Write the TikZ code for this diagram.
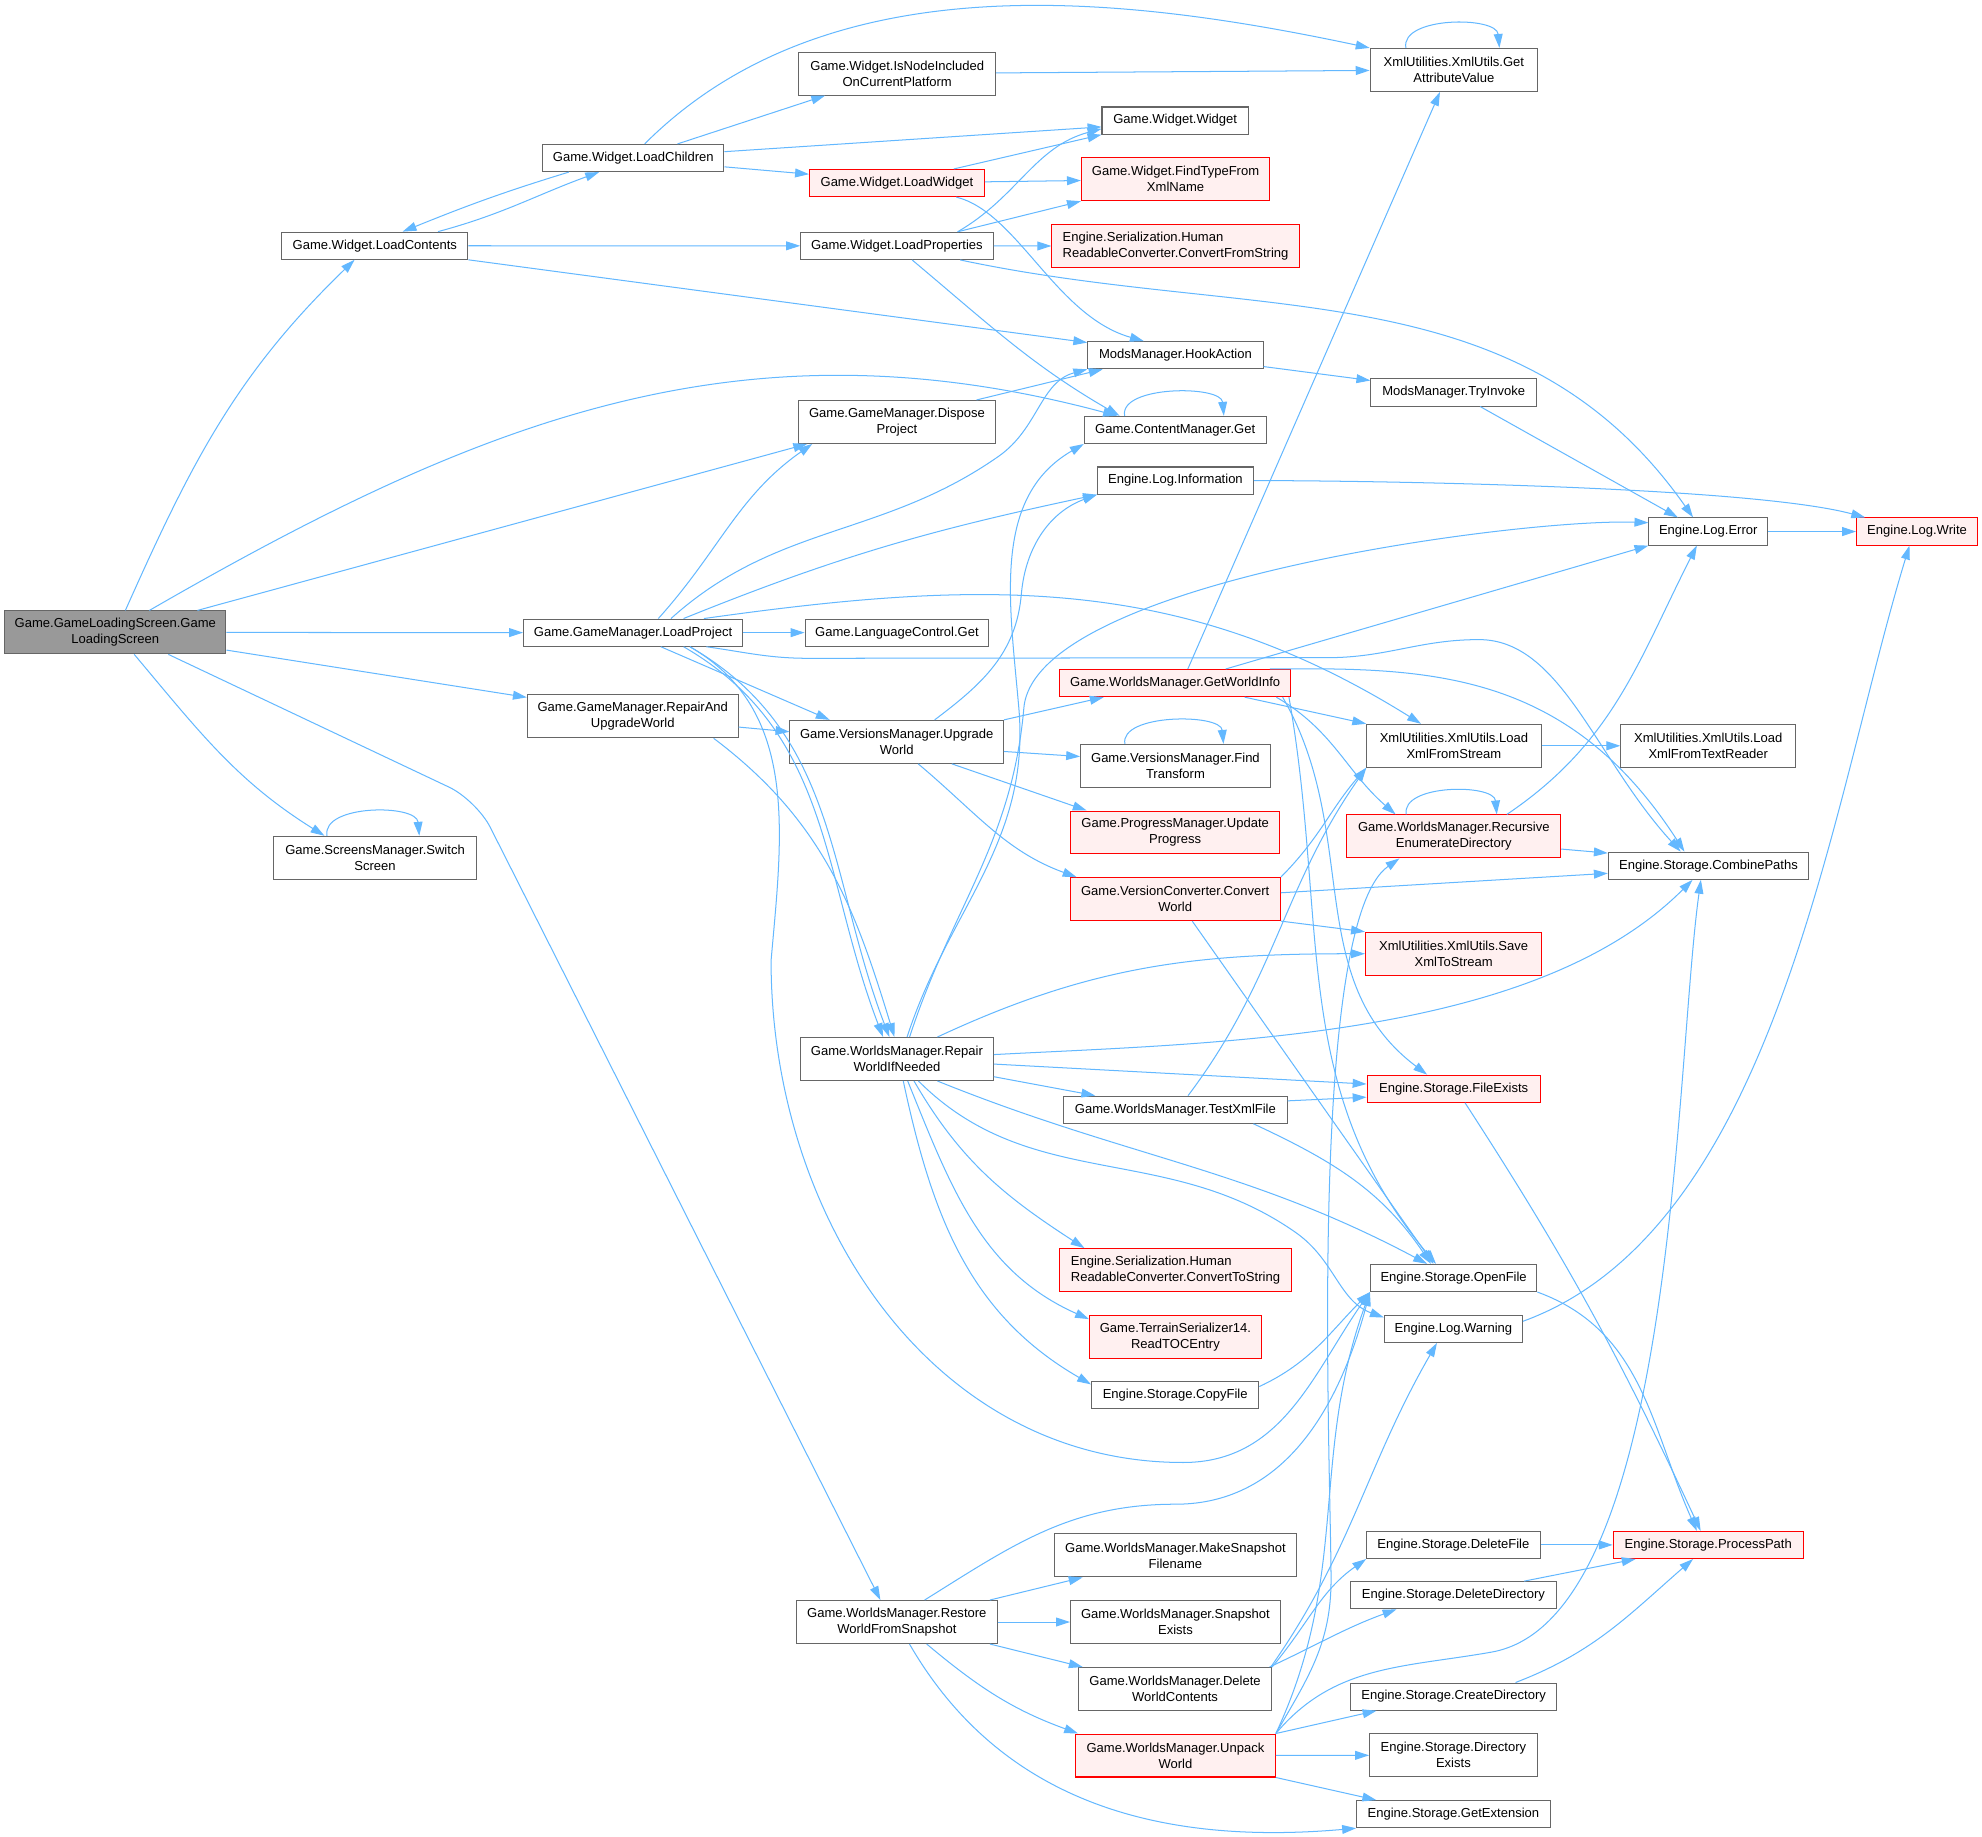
\documentclass[tikz,border=0pt]{standalone}
\usepackage{fontspec}
\setmainfont{Liberation Sans}
\usetikzlibrary{arrows.meta}
\definecolor{edgeblue}{HTML}{63B8FF}
\definecolor{boxgray}{HTML}{666666}
\definecolor{rootgray}{HTML}{999999}
\definecolor{hotred}{HTML}{FF0000}
\definecolor{hotfill}{HTML}{FFF0F0}
\begin{document}
\begin{tikzpicture}[x=1pt,y=1pt,
	fn/.style={draw=boxgray, fill=white, line width=0.8pt, font=\fontsize{10.3}{12.7}\selectfont, inner xsep=8pt, inner ysep=2pt, minimum height=21.5pt, align=center},
	fn2/.style={fn, minimum height=34pt},
	hot/.style={draw=hotred, fill=hotfill},
	root/.style={fill=rootgray},
	call/.style={edgeblue, line width=0.8pt, -{Triangle[length=11pt,width=7pt]}},
	selfcall/.style={out=100, in=95}]
	\useasboundingbox[fill=white] (0,0) rectangle (1568,-1452.5);

	\node[fn2, root, minimum width=175pt] (gls) at (91.2,-500.3) {Game.GameLoadingScreen.Game\\LoadingScreen};
	\node[fn, minimum width=147.4pt] (loadcontents) at (296.5,-194.4) {Game.Widget.LoadContents};
	\node[fn, minimum width=143.5pt] (loadchildren) at (501,-125) {Game.Widget.LoadChildren};
	\node[fn2, minimum width=155.5pt] (isnode) at (709.8,-58.2) {Game.Widget.IsNodeIncluded\\OnCurrentPlatform};
	\node[fn, minimum width=115.8pt] (widget) at (929.7,-95.4) {Game.Widget.Widget};
	\node[fn, hot, minimum width=138.4pt] (loadwidget) at (709.6,-144.8) {Game.Widget.LoadWidget};
	\node[fn2, hot, minimum width=149pt] (findtype) at (930,-141.8) {Game.Widget.FindTypeFrom\\XmlName};
	\node[fn, minimum width=152.4pt] (loadprops) at (709.6,-194.5) {Game.Widget.LoadProperties};
	\node[fn2, hot, align=left, minimum width=195.7pt] (fromstring) at (930,-194.7) {Engine.Serialization.Human\\ReadableConverter.ConvertFromString};
	\node[fn, minimum width=138.7pt] (hookaction) at (929.9,-281) {ModsManager.HookAction};
	\node[fn2, minimum width=156.4pt] (dispose) at (709.6,-333.8) {Game.GameManager.Dispose\\Project};
	\node[fn, minimum width=143.8pt] (contentget) at (929.7,-340.1) {Game.ContentManager.Get};
	\node[fn, minimum width=123.4pt] (loginfo) at (929.9,-380.2) {Engine.Log.Information};
	\node[fn2, minimum width=132.5pt] (getattr) at (1150.2,-55.3) {XmlUtilities.XmlUtils.Get\\AttributeValue};
	\node[fn, minimum width=131pt] (tryinvoke) at (1150,-310.5) {ModsManager.TryInvoke};
	\node[fn, minimum width=93.6pt] (logerror) at (1351.4,-420.5) {Engine.Log.Error};
	\node[fn, hot, minimum width=95.6pt] (logwrite) at (1516.6,-420.5) {Engine.Log.Write};
	\node[fn, minimum width=173.2pt] (loadproject) at (500.8,-500.5) {Game.GameManager.LoadProject};
	\node[fn2, minimum width=166.8pt] (repairupgrade) at (500.6,-566.7) {Game.GameManager.RepairAnd\\UpgradeWorld};
	\node[fn2, minimum width=160.5pt] (switchscreen) at (296.7,-678.6) {Game.ScreensManager.Switch\\Screen};
	\node[fn, minimum width=145pt] (langget) at (709.6,-500.5) {Game.LanguageControl.Get};
	\node[fn, hot, minimum width=182.4pt] (getworldinfo) at (929.7,-540.4) {Game.WorldsManager.GetWorldInfo};
	\node[fn2, minimum width=168.8pt] (upgradeworld) at (709.4,-586.9) {Game.VersionsManager.Upgrade\\World};
	\node[fn2, minimum width=150pt] (findtransform) at (929.9,-605.9) {Game.VersionsManager.Find\\Transform};
	\node[fn2, hot, minimum width=165pt] (updateprogress) at (929.7,-658.6) {Game.ProgressManager.Update\\Progress};
	\node[fn2, hot, minimum width=166.4pt] (convertworld) at (929.7,-711.3) {Game.VersionConverter.Convert\\World};
	\node[fn2, minimum width=152.4pt] (repairworld) at (709.6,-837.8) {Game.WorldsManager.Repair\\WorldIfNeeded};
	\node[fn, minimum width=176.7pt] (testxml) at (929.9,-877.9) {Game.WorldsManager.TestXmlFile};
	\node[fn2, minimum width=137.9pt] (loadxmlstream) at (1150.2,-590) {XmlUtilities.XmlUtils.Load\\XmlFromStream};
	\node[fn2, minimum width=138.2pt] (loadxmlreader) at (1351.4,-590) {XmlUtilities.XmlUtils.Load\\XmlFromTextReader};
	\node[fn2, hot, minimum width=169.2pt] (recursive) at (1150.1,-661.7) {Game.WorldsManager.Recursive\\EnumerateDirectory};
	\node[fn, minimum width=158.5pt] (combinepaths) at (1351.6,-684.9) {Engine.Storage.CombinePaths};
	\node[fn2, hot, minimum width=139.5pt] (savexml) at (1150,-754.5) {XmlUtilities.XmlUtils.Save\\XmlToStream};
	\node[fn, hot, minimum width=137pt] (fileexists) at (1150,-861.3) {Engine.Storage.FileExists};
	\node[fn2, hot, align=left, minimum width=183.4pt] (tostring) at (929.9,-1004.8) {Engine.Serialization.Human\\ReadableConverter.ConvertToString};
	\node[fn2, hot, minimum width=136pt] (readtoc) at (929.9,-1057.6) {Game.TerrainSerializer14.\\ReadTOCEntry};
	\node[fn, minimum width=132.4pt] (copyfile) at (929.7,-1103.9) {Engine.Storage.CopyFile};
	\node[fn2, minimum width=191.4pt] (makesnap) at (929.9,-1230.5) {Game.WorldsManager.MakeSnapshot\\Filename};
	\node[fn2, minimum width=158.7pt] (restore) at (709.5,-1283.2) {Game.WorldsManager.Restore\\WorldFromSnapshot};
	\node[fn2, minimum width=166pt] (snapexists) at (929.9,-1283.2) {Game.WorldsManager.Snapshot\\Exists};
	\node[fn2, minimum width=152.7pt] (deletewc) at (929.6,-1336.2) {Game.WorldsManager.Delete\\WorldContents};
	\node[fn2, hot, minimum width=158.1pt] (unpack) at (929.9,-1388.8) {Game.WorldsManager.Unpack\\World};
	\node[fn, minimum width=131.5pt] (openfile) at (1150,-1011) {Engine.Storage.OpenFile};
	\node[fn, minimum width=109.2pt] (logwarning) at (1149.8,-1051.3) {Engine.Log.Warning};
	\node[fn, minimum width=137.2pt] (deletefile) at (1149.8,-1222.2) {Engine.Storage.DeleteFile};
	\node[fn, hot, minimum width=150.2pt] (processpath) at (1351.4,-1222.2) {Engine.Storage.ProcessPath};
	\node[fn, minimum width=162.6pt] (deletedir) at (1149.8,-1262) {Engine.Storage.DeleteDirectory};
	\node[fn, minimum width=163.5pt] (createdir) at (1150,-1342.2) {Engine.Storage.CreateDirectory};
	\node[fn2, minimum width=132.6pt] (direxists) at (1149.8,-1388.6) {Engine.Storage.Directory\\Exists};
	\node[fn, minimum width=153.2pt] (getext) at (1149.8,-1435.2) {Engine.Storage.GetExtension};

	\path[call]
	([xshift=8pt]gls.north)		edge[out=66,in=224]	([xshift=-16pt]loadcontents.south)
	([xshift=27pt]gls.north)	edge[out=30,in=165]	([xshift=-46pt]contentget.north)
	([xshift=65pt]gls.north)	edge				([xshift=-71pt]dispose.south)
	(gls)						edge				(loadproject)
	([yshift=-14pt]gls.east)	edge				([yshift=15pt]repairupgrade.west)
	([xshift=15pt]gls.south)	edge[out=-50,in=148]	([xshift=-40pt]switchscreen.north)
	([xshift=-38pt]switchscreen.north) edge[selfcall,looseness=0.89] ([xshift=35pt]switchscreen.north);
	\draw[call, rounded corners=24pt] ([xshift=42pt]gls.south) -- (377,-633) -- ([xshift=-13pt]restore.north);

	\path[call]
	([xshift=50pt]loadcontents.north)	edge[out=15,in=200]	([xshift=-27pt]loadchildren.south)
	(loadcontents)						edge				(loadprops)
	(loadcontents.south east)			edge				([yshift=10pt]hookaction.west)
	([xshift=-51pt]loadchildren.south)	edge[out=197,in=22]	([xshift=22pt]loadcontents.north)
	([xshift=9pt]loadchildren.north)	edge[out=45,in=168,looseness=0.9] (getattr.north west)
	([xshift=35pt]loadchildren.north)	edge				([xshift=-57pt]isnode.south)
	([yshift=5pt]loadchildren.east)		edge				([yshift=-5pt]widget.west)
	([yshift=-7pt]loadchildren.east)	edge				([yshift=7pt]loadwidget.west)
	(isnode)							edge				(getattr)
	([xshift=-38pt]getattr.north)		edge[selfcall,looseness=0.88] ([xshift=36pt]getattr.north)
	([xshift=45pt]loadwidget.north)		edge				(widget.south west)
	(loadwidget)						edge				(findtype)
	([xshift=48pt]loadprops.north)		edge[out=30,in=195]	([yshift=-6.5pt]widget.west)
	([xshift=48pt]loadprops.north)		edge				(findtype.south west)
	(loadprops)							edge				(fromstring)
	([xshift=50pt]loadprops.south)		edge[out=-12,in=125]	([xshift=-12pt]logerror.north)
	([xshift=12pt]loadprops.south)		edge[out=-40,in=150]	([xshift=-44pt]contentget.north)
	([yshift=-9pt]hookaction.east)		edge				([yshift=9.5pt]tryinvoke.west)
	([xshift=-40pt]contentget.north)	edge[selfcall,looseness=0.8] ([xshift=38.5pt]contentget.north)
	(loginfo)							edge[out=0,in=165,looseness=0.5] ([xshift=-41pt]logwrite.north)
	([xshift=21pt]tryinvoke.south)		edge				([xshift=-24pt]logerror.north)
	(logerror)							edge				(logwrite)
	([xshift=63pt]dispose.north)		edge				([xshift=-57.5pt]hookaction.south);
	\draw[call] ([xshift=47pt]loadwidget.south) .. controls (805,-168) and (835,-250) .. ([xshift=-25pt]hookaction.north);

	\path[call]
	([xshift=20pt]loadproject.north)	edge[out=48,in=215]	([xshift=-67pt]dispose.south)
	([xshift=40pt]loadproject.north)	edge[out=22,in=192]	(loginfo.south west)
	([xshift=56pt]loadproject.north)	edge[out=8,in=148]	([xshift=-26pt]loadxmlstream.north)
	(loadproject)						edge				(langget)
	([xshift=22pt]loadproject.south)	edge				([xshift=-53pt]upgradeworld.north)
	([xshift=40pt]loadproject.south)	edge[out=-30,in=111]	([xshift=-11pt]repairworld.north)
	([xshift=45pt]loadproject.south)	edge[out=-30,in=111]	([xshift=-6pt]repairworld.north)
	([yshift=-8.5pt]repairupgrade.east)	edge				([yshift=8pt]upgradeworld.west)
	([xshift=64pt]repairupgrade.south)	edge[out=-37,in=107]	([xshift=-2pt]repairworld.north);
	\draw[call] ([xshift=30pt]loadproject.north) to[out=42,in=215] (790,-361) to[out=35,in=195] (hookaction.south west);
	\draw[call] ([xshift=58pt]loadproject.south) to[out=-8,in=180] (640,-520.8) -- (1050,-520.3) to[out=0,in=180] (1170,-506) .. controls (1235,-506) and (1262,-600) .. ([xshift=-22pt]combinepaths.north);
	\draw[call] ([xshift=45pt]loadproject.south) to[out=-30,in=85] (610,-760) to[out=-90,in=180] (936,-1157) to[out=0,in=235] (openfile.south west);

	\path[call]
	(upgradeworld.north east)			edge				([xshift=-56.5pt]getworldinfo.south)
	([yshift=-7.6pt]upgradeworld.east)	edge				([yshift=7.4pt]findtransform.west)
	([xshift=43.6pt]upgradeworld.south)	edge				([xshift=-70pt]updateprogress.north)
	([xshift=17pt]upgradeworld.south)	edge[out=-40,in=160]	([xshift=-78pt]convertworld.north)
	([xshift=-40pt]findtransform.north)	edge[selfcall,looseness=0.8] ([xshift=38pt]findtransform.north)
	([xshift=10pt]getworldinfo.north)	edge				([xshift=-11pt]getattr.south)
	([xshift=40pt]getworldinfo.north)	edge				(logerror.south west)
	([xshift=55pt]getworldinfo.south)	edge				(loadxmlstream.north west)
	([xshift=80pt]getworldinfo.south)	edge[out=-30,in=139]	([xshift=-46pt]recursive.north)
	([xshift=85pt]getworldinfo.south)	edge[out=-60,in=143]	([xshift=-21pt]fileexists.north)
	([xshift=90pt]getworldinfo.south)	edge[out=-80,in=130]	([xshift=-14pt]openfile.north)
	(convertworld.north east)			edge[out=45,in=229]	(loadxmlstream.south west)
	([yshift=5pt]convertworld.east)		edge				([yshift=-6pt]combinepaths.west)
	(convertworld.south east)			edge				(savexml.north west)
	([xshift=13.5pt]convertworld.south)	edge				([xshift=-16pt]openfile.north);
	\draw[call] ([xshift=30pt]upgradeworld.north) to[out=37,in=265] (808,-470) to[out=85,in=200] (loginfo.south west);
	\draw[call] ([xshift=75pt]getworldinfo.north) .. controls (1130,-528) and (1240,-530) .. ([xshift=-19pt]combinepaths.north);

	\path[call]
	([xshift=32pt]repairworld.north)	edge[out=25,in=180]	(savexml.west)
	([yshift=3.5pt]repairworld.east)	edge[out=3,in=225,looseness=0.8] ([xshift=-12.6pt]combinepaths.south)
	([yshift=-4pt]repairworld.east)		edge				([yshift=3.7pt]fileexists.west)
	([yshift=-14pt]repairworld.east)	edge				([xshift=-63.4pt]testxml.north)
	([xshift=32pt]repairworld.south)	edge[out=-22,in=152]	([xshift=-21pt]openfile.north)
	([xshift=13.5pt]repairworld.south)	edge[out=-60,in=147]	([xshift=-72pt]tostring.north)
	([xshift=8.5pt]repairworld.south)	edge[out=-68,in=156]	([yshift=14pt]readtoc.west)
	([xshift=5pt]repairworld.south)		edge[out=-78,in=150]	([yshift=8.7pt]copyfile.west)
	([xshift=10pt]testxml.north)		edge[out=53,in=235]	(loadxmlstream.south west)
	([yshift=7pt]testxml.east)			edge				([yshift=-6.7pt]fileexists.west)
	([xshift=61.7pt]testxml.south)		edge[out=-25,in=124]	([xshift=-18pt]openfile.north)
	([yshift=7pt]copyfile.east)			edge[out=25,in=225]	(openfile.south west);
	\draw[call] ([xshift=8pt]repairworld.north) to[out=72,in=275] (806,-560) to[out=95,in=210] (contentget.south west);
	\draw[call] ([xshift=10pt]repairworld.north) to[out=72,in=265] (810,-560) to[out=85,in=178,looseness=0.5] ([yshift=7pt]logerror.west);
	\draw[call] ([xshift=17pt]repairworld.south) to[out=-45,in=145] (1025,-975) to[out=-35,in=160] ([yshift=9pt]logwarning.west);

	\path[call]
	([xshift=73.6pt]restore.north)		edge				([xshift=-73.4pt]makesnap.south)
	(restore)							edge				(snapexists)
	([xshift=73.6pt]restore.south)		edge				([xshift=-73pt]deletewc.north)
	([xshift=23.6pt]restore.south)		edge[out=-40,in=160]	([xshift=-77pt]unpack.north)
	([xshift=10pt]restore.south)		edge[out=-60,in=185]	(getext.south west)
	(deletewc.north east)				edge[out=50,in=215]	(deletefile.south west)
	([xshift=-2pt]deletewc.north east)	edge[out=25,in=200]	([xshift=-45pt]deletedir.south)
	([xshift=-1pt]deletewc.north east)	edge[out=55,in=240]	([xshift=-13pt]logwarning.south)
	(unpack.north east)					edge[out=65,in=250]	(openfile.south west)
	(unpack.north east)					edge				([xshift=-61pt]createdir.south)
	(unpack)							edge				(direxists)
	(unpack.south east)					edge				([xshift=-61pt]getext.north);
	\draw[call] ([xshift=22pt]restore.north) to[out=32,in=180] (930,-1190) to[out=0,in=255] (openfile.south west);
	\draw[call] (unpack.north east) to[out=60,in=270] (1053,-1250) to[out=90,in=215,looseness=0.4] ([xshift=-43pt]recursive.south);
	\draw[call] (unpack.north east) to[out=50,in=190] (1180,-1307) to[out=10,in=262,looseness=0.6] ([xshift=-6pt]combinepaths.south);

	\path[call]
	([yshift=-10pt]recursive.east)		edge				([yshift=10pt]combinepaths.west)
	([xshift=-37.6pt]recursive.north)	edge[selfcall,looseness=0.88] ([xshift=34pt]recursive.north)
	([xshift=42pt]recursive.north)		edge[out=34,in=243]	([xshift=-9pt]logerror.south)
	(loadxmlstream)						edge				(loadxmlreader)
	([yshift=6pt]logwarning.east)		edge[out=20,in=253,looseness=0.8] ([xshift=-6pt]logwrite.south)
	(openfile.south east)				edge[out=-20,in=114]	([xshift=-9pt]processpath.north)
	([xshift=9pt]fileexists.south)		edge[out=-57,in=115]	([xshift=-6pt]processpath.north)
	(deletefile)						edge				(processpath)
	([xshift=56pt]deletedir.north)		edge				([xshift=-57.4pt]processpath.south)
	([xshift=49pt]createdir.north)		edge[out=21,in=221]	([xshift=-12pt]processpath.south);
\end{tikzpicture}
\end{document}
